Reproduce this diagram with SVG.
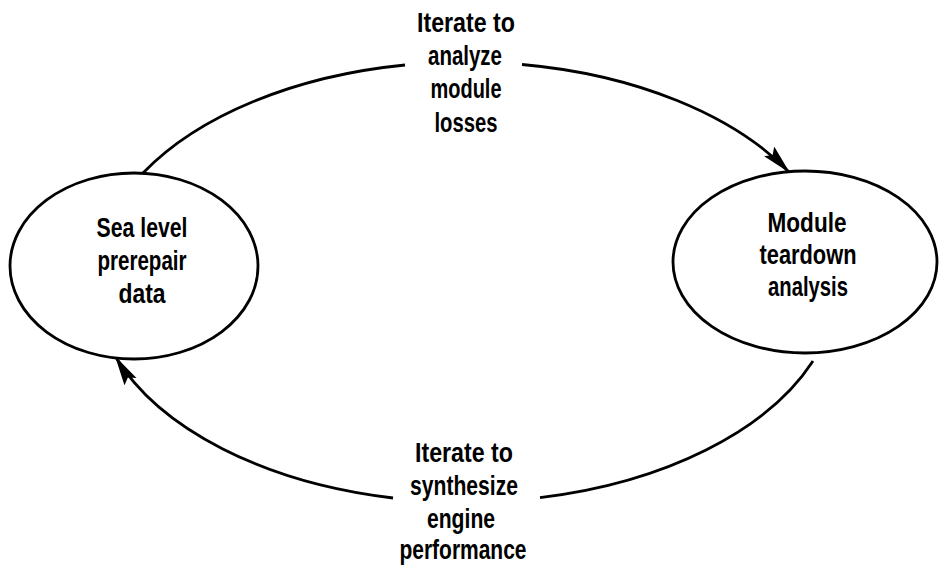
<svg xmlns="http://www.w3.org/2000/svg" width="945" height="571" viewBox="0 0 945 571">
<defs>
<style>
.node{fill:#fff;stroke:#000;stroke-width:2.8}
.conn{fill:none;stroke:#000;stroke-width:2.8}
text{font-family:"Liberation Sans",Arial,sans-serif;font-weight:bold;font-size:28px;fill:#000;text-anchor:middle}
</style>
<marker id="arr" markerUnits="userSpaceOnUse" markerWidth="34" markerHeight="16" refX="30" refY="7" orient="auto" viewBox="0 0 34 16">
<path d="M0,0 L30,7 L0,14 L5,7 z" fill="#000"/>
</marker>
</defs>
<g id="connectors">
<path class="conn" d="M143,173 A372,220 0 0 1 405,65"/>
<path class="conn" d="M522,64.5 A372,220 0 0 1 790,173" marker-end="url(#arr)"/>
<path class="conn" d="M813,361 A372,220 0 0 1 540,497.6"/>
<path class="conn" d="M393,498 A372,220 0 0 1 115,356" marker-end="url(#arr)"/>
</g>
<g id="label-top">
<text x="466" y="32" textLength="98" lengthAdjust="spacingAndGlyphs">Iterate to</text>
<text x="465" y="65" textLength="74" lengthAdjust="spacingAndGlyphs">analyze</text>
<text x="466" y="98" textLength="71" lengthAdjust="spacingAndGlyphs">module</text>
<text x="466" y="132" textLength="63" lengthAdjust="spacingAndGlyphs">losses</text>
</g>
<g id="label-bottom">
<text x="464" y="462" textLength="98" lengthAdjust="spacingAndGlyphs">Iterate to</text>
<text x="464" y="495" textLength="108" lengthAdjust="spacingAndGlyphs">synthesize</text>
<text x="461" y="528" textLength="68" lengthAdjust="spacingAndGlyphs">engine</text>
<text x="463" y="559" textLength="127" lengthAdjust="spacingAndGlyphs">performance</text>
</g>
<g id="node-sealevel">
<ellipse class="node" cx="134" cy="266" rx="124" ry="93"/>
<text x="142" y="237" textLength="91" lengthAdjust="spacingAndGlyphs">Sea level</text>
<text x="142" y="270" textLength="89" lengthAdjust="spacingAndGlyphs">prerepair</text>
<text x="142" y="303" textLength="47" lengthAdjust="spacingAndGlyphs">data</text>
</g>
<g id="node-module">
<ellipse class="node" cx="805" cy="262" rx="132" ry="91"/>
<text x="807" y="232" textLength="79" lengthAdjust="spacingAndGlyphs">Module</text>
<text x="808" y="264" textLength="97" lengthAdjust="spacingAndGlyphs">teardown</text>
<text x="808" y="296" textLength="80" lengthAdjust="spacingAndGlyphs">analysis</text>
</g>
</svg>
